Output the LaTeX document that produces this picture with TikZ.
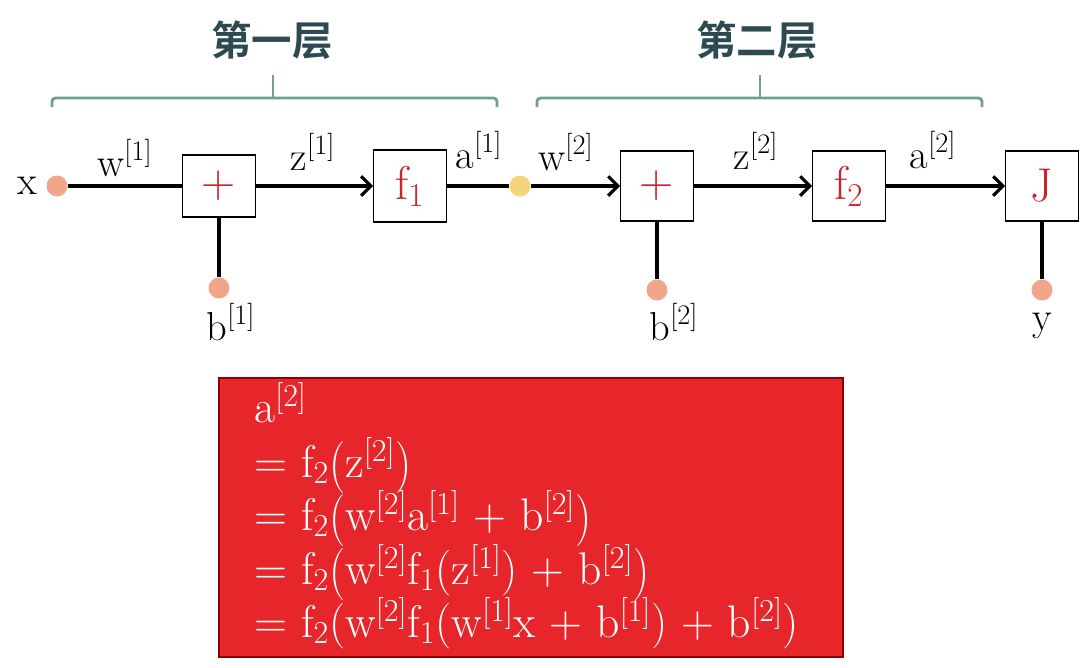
\documentclass[tikz,border=0pt]{standalone}
\usepackage{graphicx}
\usepackage{fontspec}
\newfontfamily\cjk{Noto Sans CJK SC}[BoldFont={Noto Sans CJK SC Bold}]
\usetikzlibrary{arrows.meta}
\definecolor{dotred}{HTML}{F0A68A}
\definecolor{dotyel}{HTML}{F6D47C}
\definecolor{brkgreen}{HTML}{6FA088}
\definecolor{titlecol}{HTML}{2D4A52}
\definecolor{boxred}{HTML}{C8242C}
\definecolor{panelred}{HTML}{E6262B}
\newcommand{\sps}[1]{\textsuperscript{[#1]}}
\newcommand{\sbs}[1]{\textsubscript{#1}}
\newcommand{\lp}{\raisebox{-0.07em}{\scalebox{1}[1.14]{(}}}
\newcommand{\rp}{\raisebox{-0.07em}{\scalebox{1}[1.14]{)}}}
\begin{document}
\begin{tikzpicture}[x=0.02cm,y=-0.02cm,
  dot/.style={circle,minimum size=0.42cm,inner sep=0pt,fill=#1},
  opbox/.style={draw=black,line width=0.8pt,fill=white,minimum width=1.45cm,minimum height=1.4cm,text=boxred,font=\fontsize{27}{30}\selectfont,inner sep=0pt},
  lab/.style={font=\fontsize{23}{26}\selectfont,inner sep=0pt},
  wire/.style={line width=1.8pt},
  arr/.style={line width=1.8pt,-{Straight Barb[length=5.5pt,width=11pt,line width=1.8pt]}},
  brk/.style={draw=brkgreen,line width=1.6pt,rounded corners=2pt},
  ttl/.style={font=\cjk\bfseries\fontsize{23}{26}\selectfont,text=titlecol,inner sep=0pt},
  frm/.style={font=\fontsize{26}{30}\selectfont,text=white,anchor=base west,inner sep=0pt}]
\useasboundingbox (0,0) rectangle (1080,667);
% titles
\node[ttl] (t1) at (272,40) {第一层};
\node[ttl] (t2) at (757,40) {第二层};
% brackets
\draw[brk] (52,107) -- (52,98) -- (497,98) -- (497,107);
\draw[brk] (273,75) -- (273,98);
\draw[brk] (537,107) -- (537,98) -- (982,98) -- (982,107);
\draw[brk] (760,75) -- (760,98);
% nodes
\node[dot=dotred] (x) at (57,186) {};
\node[lab] (xl) at (27,186) {x};
\node[opbox,minimum height=1.24cm] (p1) at (219,186) {+};
\node[dot=dotred] (b1) at (219,288) {};
\node[opbox,minimum height=1.44cm] (f1) at (410,186) {f\sbs{1}};
\node[dot=dotyel] (a1d) at (520,186) {};
\node[opbox] (p2) at (657,186) {+};
\node[dot=dotred] (b2) at (657,290) {};
\node[opbox] (f2) at (849,186) {f\sbs{2}};
\node[opbox] (J) at (1042,186) {J};
\node[dot=dotred] (yd) at (1042,290) {};
% labels
\node[lab] (w1l) at (125,158) {w\sps{1}};
\node[lab] (z1l) at (313,152) {z\sps{1}};
\node[lab] (a1l) at (479,150) {a\sps{1}};
\node[lab] (w2l) at (566,152) {w\sps{2}};
\node[lab] (z2l) at (756,151) {z\sps{2}};
\node[lab] (a2l) at (933,150) {a\sps{2}};
\node[lab] (b1l) at (231,322) {b\sps{1}};
\node[lab] (b2l) at (674,322) {b\sps{2}};
\node[lab] (yl) at (1042,326) {y};
% connectors
\draw[wire] (x) -- (p1);
\draw[wire] (p1) -- (b1);
\draw[arr] (p1) -- (f1);
\draw[wire] (f1) -- (a1d);
\draw[arr] (a1d) -- (p2);
\draw[wire] (p2) -- (b2);
\draw[arr] (p2) -- (f2);
\draw[arr] (f2) -- (J);
\draw[wire] (J) -- (yd);
% formula panel
\node[draw=red!55!black,line width=1.2pt,fill=panelred,minimum width=12.48cm,minimum height=5.58cm,inner sep=0pt] (panel) at (531,517.5) {};
\node[frm] (l1) at (254,422) {a\sps{2}};
\node[frm] (l2) at (254,477) {= f\sbs{2}\lp z\sps{2}\rp};
\node[frm] (l3) at (254,530) {= f\sbs{2}\lp w\sps{2}a\sps{1} + b\sps{2}\rp};
\node[frm] (l4) at (254,584) {= f\sbs{2}\lp w\sps{2}f\sbs{1}(z\sps{1}) + b\sps{2}\rp};
\node[frm] (l5) at (254,637) {= f\sbs{2}(w\sps{2}f\sbs{1}(w\sps{1}x + b\sps{1}) + b\sps{2})};
\end{tikzpicture}
\end{document}
